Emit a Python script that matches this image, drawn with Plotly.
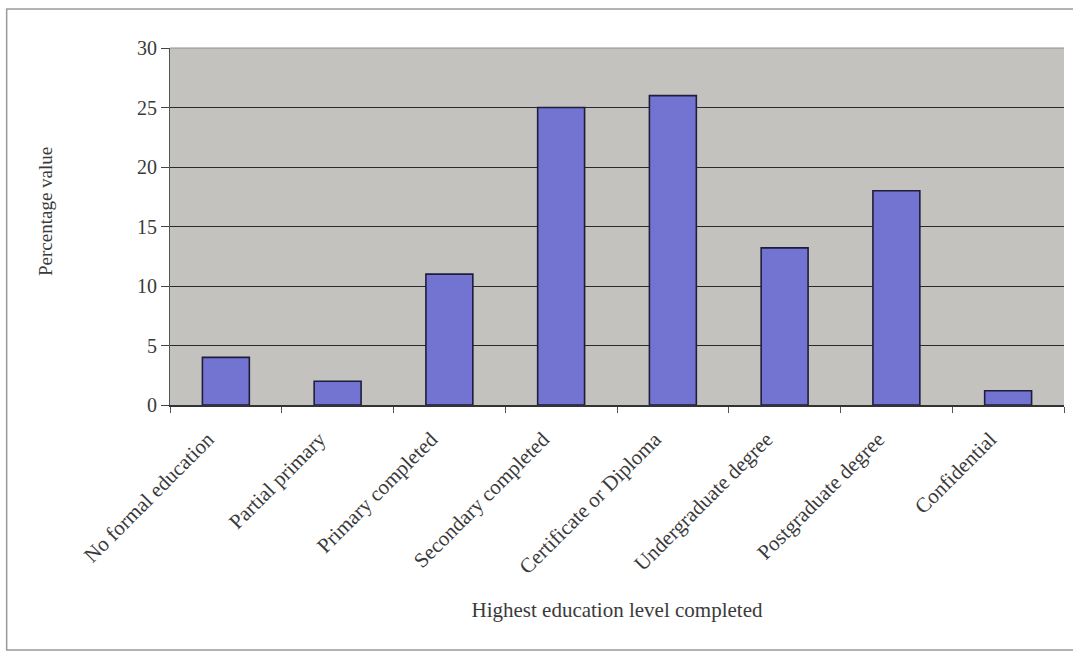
import plotly.graph_objects as go

# Highest education level completed by respondents (percent)
categories = [
    "No formal education",
    "Partial primary",
    "Primary completed",
    "Secondary completed",
    "Certificate or Diploma",
    "Undergraduate degree",
    "Postgraduate degree",
    "Confidential",
]
percentages = [4, 2, 11, 25, 26, 13.2, 18, 1.2]
y_ticks = [0, 5, 10, 15, 20, 25, 30]

serif = "Liberation Serif, Times New Roman, serif"
ink = "#3a3a3a"

fig = go.Figure(
    go.Bar(
        x=categories,
        y=percentages,
        marker=dict(color="#7373d2", line=dict(color="#1e1e3c", width=1.6)),
        width=0.42,
    )
)

fig.update_layout(
    width=1073,
    height=652,
    margin=dict(l=170, r=9, t=48, b=247),
    paper_bgcolor="white",
    plot_bgcolor="#c3c2bf",
    showlegend=False,
    font=dict(family=serif, color=ink),
    shapes=[
        # outer frame around the chart
        dict(
            type="rect", xref="paper", yref="paper",
            x0=-0.1827, x1=1.03, y0=-0.686, y1=1.109,
            line=dict(color="#9a9a9a", width=1.5), fillcolor="rgba(0,0,0,0)",
            layer="below",
        ),
        # top edge of the plot area
        dict(
            type="line", xref="paper", yref="paper",
            x0=0, x1=1, y0=1, y1=1,
            line=dict(color="#8e8e8e", width=1.2),
        ),
    ],
    annotations=[
        # y-axis title, set slightly above the plot's vertical centre
        dict(
            text="Percentage value", xref="paper", yref="paper",
            x=-0.140, y=0.543, xanchor="center", yanchor="middle",
            textangle=-90, showarrow=False,
            font=dict(size=19, family=serif, color=ink),
        )
    ],
)

fig.update_yaxes(
    range=[0, 30],
    tickvals=y_ticks,
    ticks="outside",
    ticklen=8,
    tickcolor="#444444",
    tickfont=dict(size=20, family=serif, color=ink),
    showgrid=True,
    gridcolor="#2a2a2a",
    gridwidth=1.2,
    showline=True,
    linecolor="#555555",
    linewidth=1.2,
    zeroline=False,
)

fig.update_xaxes(
    tickangle=-45,
    ticks="outside",
    tickson="boundaries",
    ticklen=6,
    tickcolor="#555555",
    tickfont=dict(size=21, family=serif, color=ink),
    ticklabelstandoff=12,
    ticklabelshift=-18,
    showline=True,
    linecolor="#333333",
    linewidth=1.5,
    title=dict(text="Highest education level completed", font=dict(size=21, family=serif, color=ink), standoff=24),
)

fig.write_html("out.html")
